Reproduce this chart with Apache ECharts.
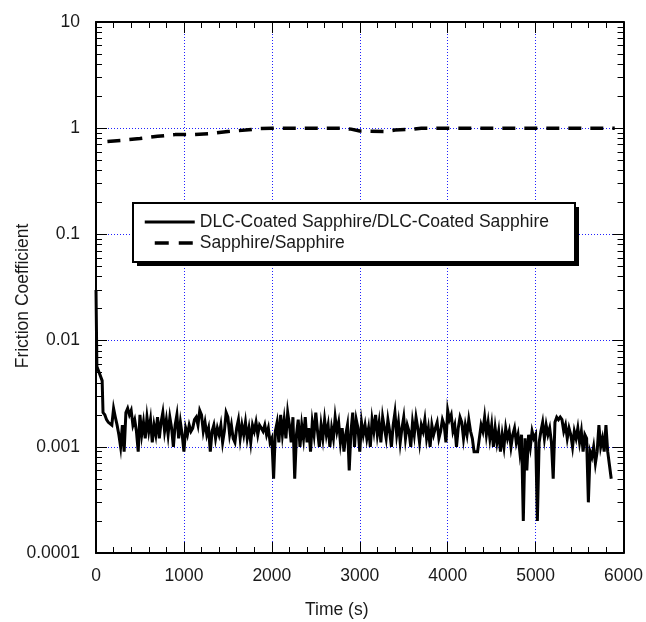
<!DOCTYPE html>
<html>
<head>
<meta charset="utf-8">
<script src="https://cdn.jsdelivr.net/npm/echarts@6/dist/echarts.min.js"></script>
<style>html,body{margin:0;padding:0;background:#fff;}#c{width:646px;height:622px;}</style>
</head>
<body>
<div id="c"></div>
<script>
// ---- data ----
var seriesNames = ['DLC-Coated Sapphire/DLC-Coated Sapphire', 'Sapphire/Sapphire'];
var xTickLabels = ['0', '1000', '2000', '3000', '4000', '5000', '6000'];
var yTickLabels = ['0.0001', '0.001', '0.01', '0.1', '1', '10'];
var xTitle = 'Time (s)';
var yTitle = 'Friction Coefficient';

// DLC run: first few readings (time, value), then readings every 20 s from 100 s
var dlcHeadTime = [0, 10, 70, 80];
var dlcHeadValue = [0.030, 0.0057, 0.0042, 0.0021];
var dlcStart = 100, dlcStep = 20;
var dlcValues = [
  0.0020, 0.0018, 0.0017, 0.0017, 0.0016,
  0.0023, 0.0019, 0.0016, 0.0013, 0.0010,
  0.0016, 0.0009, 0.0021, 0.0023, 0.0020,
  0.0022, 0.0016, 0.0018, 0.0014, 0.0009,
  0.0020, 0.0013, 0.0017, 0.0012, 0.0019,
  0.0014, 0.0018, 0.0011, 0.0016, 0.0013,
  0.0019, 0.0012, 0.0017, 0.0021, 0.0014,
  0.0018, 0.0013, 0.0019, 0.0015, 0.0010,
  0.0016, 0.0020, 0.0012, 0.0017, 0.0013,
  0.0009, 0.0015, 0.0013, 0.0016, 0.0014,
  0.0015, 0.0018, 0.0019, 0.0016, 0.0022,
  0.0020, 0.0014, 0.0017, 0.0013, 0.0015,
  0.0009, 0.0014, 0.0016, 0.0012, 0.0015,
  0.0013, 0.0016, 0.0011, 0.0014, 0.0021,
  0.0019, 0.0013, 0.0016, 0.0012, 0.0011,
  0.0015, 0.0018, 0.0012, 0.0016, 0.0013,
  0.0017, 0.0012, 0.0015, 0.0011, 0.0016,
  0.0014, 0.0017, 0.0013, 0.0016, 0.0015,
  0.0014, 0.0016, 0.0013, 0.0015, 0.0011,
  0.0012, 0.0005, 0.0014, 0.0017, 0.0011,
  0.0020, 0.0013, 0.0018, 0.0012, 0.0021,
  0.0016, 0.0011, 0.0019, 0.0005, 0.0013,
  0.0018, 0.0010, 0.0016, 0.0012, 0.0019,
  0.0011, 0.0015, 0.0009, 0.0017, 0.0013,
  0.0021, 0.0014, 0.0010, 0.0016, 0.0012,
  0.0018, 0.0013, 0.0016, 0.0010, 0.0015,
  0.0012, 0.0019, 0.0014, 0.0017, 0.0011,
  0.0015, 0.0009, 0.0013, 0.0016, 0.0006,
  0.0014, 0.0021, 0.0010, 0.0018, 0.0015,
  0.0009, 0.0017, 0.0013, 0.0016, 0.0012,
  0.0015, 0.0010, 0.0018, 0.0014, 0.0020,
  0.0013, 0.0017, 0.0011, 0.0019, 0.0015,
  0.0012, 0.0018, 0.0014, 0.0010, 0.0016,
  0.0021, 0.0013, 0.0017, 0.0011, 0.0015,
  0.0019, 0.0012, 0.0016, 0.0014, 0.0010,
  0.0017, 0.0013, 0.0019, 0.0015, 0.0011,
  0.0016, 0.0014, 0.0018, 0.0012, 0.0015,
  0.0010, 0.0016, 0.0013, 0.0015, 0.0017,
  0.0012, 0.0014, 0.0018, 0.0016, 0.0011,
  0.0022, 0.0018, 0.0020, 0.0014, 0.0016,
  0.0010, 0.0015, 0.0019, 0.0017, 0.0012,
  0.0016, 0.0013, 0.0018, 0.0014, 0.0012,
  0.0009, 0.0009, 0.0009, 0.0009, 0.0016,
  0.0014, 0.0019, 0.0013, 0.0017, 0.0012,
  0.0016, 0.0010, 0.0015, 0.0011, 0.0014,
  0.0009, 0.0013, 0.0010, 0.0015, 0.0012,
  0.0014, 0.0010, 0.0013, 0.0015, 0.0011,
  0.0013, 0.0009, 0.0013, 0.0002, 0.0012,
  0.0006, 0.0013, 0.0010, 0.0014, 0.0012,
  0.0013, 0.0002, 0.0011, 0.0014, 0.0017,
  0.0012, 0.0016, 0.0013, 0.0015, 0.0011,
  0.0005, 0.0017, 0.0019, 0.0018, 0.0019,
  0.0018, 0.0014, 0.0016, 0.0012, 0.0015,
  0.0013, 0.0010, 0.0014, 0.0012, 0.0015,
  0.0011, 0.0014, 0.0009, 0.0013, 0.0012,
  0.0003, 0.0009, 0.0008, 0.0010, 0.0007,
  0.0009, 0.0016, 0.0010, 0.0012, 0.0009,
  0.0016, 0.0009, 0.0009, 0.0005
];

// Sapphire run
var sapTime  = [130, 300, 500, 700, 900, 1100, 1300, 1500, 1700, 1850, 2000, 2500, 2800, 2900, 3000, 3300, 3400, 3600, 3700, 4500, 5000, 5500, 5900];
var sapValue = [0.75, 0.77, 0.80, 0.84, 0.87, 0.87, 0.89, 0.93, 0.96, 0.99, 1.0, 1.0, 1.0, 0.98, 0.94, 0.93, 0.96, 0.98, 1.0, 1.0, 1.0, 1.0, 1.0];

// ---- build ----
var dlcData = [];
for (var i = 0; i < dlcHeadTime.length; i++) dlcData.push([dlcHeadTime[i], dlcHeadValue[i]]);
for (var j = 0; j < dlcValues.length; j++) dlcData.push([dlcStart + j * dlcStep, dlcValues[j]]);
var sapData = sapTime.map(function (t, k) { return [t, sapValue[k]]; });

var expMin = -4, expMax = 1;
var minorExp = [], majorExp = [];
for (var d = expMin; d <= expMax; d++) {
  majorExp.push(d);
  if (d < expMax) for (var m = 2; m <= 9; m++) minorExp.push(d + Math.log10(m));
}

var FONT = 'Liberation Sans, Arial, sans-serif';
var FS = 17.5;
var TXT = '#1a1a1a';
var gridLine = { show: true, lineStyle: { color: '#2020ff', type: [1, 2], width: 1 } };

function tickOnlyY(pos, values, len, showLine) {
  return {
    type: 'value', position: pos, min: expMin, max: expMax, interval: 1,
    axisLine: { show: !!showLine, onZero: false, lineStyle: { color: '#000', width: 2 } },
    axisTick: { show: true, inside: true, length: len, customValues: values, lineStyle: { color: '#000', width: 1 } },
    axisLabel: { show: false }, splitLine: { show: false }
  };
}

var LG = { x: 133, y: 203, w: 442, h: 59 };

var chart = echarts.init(document.getElementById('c'), null, { renderer: 'canvas' });
chart.setOption({
  animation: false,
  backgroundColor: '#fff',
  textStyle: { fontFamily: FONT },
  grid: { left: 96, right: 19, top: 22, bottom: 69, containLabel: false },
  xAxis: [
    {
      type: 'value', position: 'bottom', min: 0, max: 6000, interval: 1000,
      axisLine: { onZero: false, lineStyle: { color: '#000', width: 2 } },
      axisTick: { inside: true, length: 11, lineStyle: { color: '#000', width: 1 } },
      minorTick: { show: true, splitNumber: 5, length: 6, lineStyle: { color: '#000', width: 1 } },
      splitLine: gridLine,
      axisLabel: { fontSize: FS, color: TXT, margin: 14, fontFamily: FONT,
        formatter: function (v) { return xTickLabels[Math.round(v / 1000)]; } }
    },
    {
      type: 'value', position: 'top', min: 0, max: 6000, interval: 1000,
      axisLine: { onZero: false, lineStyle: { color: '#000', width: 2 } },
      axisTick: { inside: true, length: 11, lineStyle: { color: '#000', width: 1 } },
      minorTick: { show: true, splitNumber: 5, length: 6, lineStyle: { color: '#000', width: 1 } },
      splitLine: { show: false }, axisLabel: { show: false }
    }
  ],
  yAxis: [
    {
      type: 'log', logBase: 10, min: 0.0001, max: 10, position: 'left',
      axisLine: { onZero: false, lineStyle: { color: '#000', width: 2 } },
      axisTick: { inside: true, length: 11, lineStyle: { color: '#000', width: 1 } },
      splitLine: gridLine,
      axisLabel: { fontSize: FS, color: TXT, margin: 16, fontFamily: FONT,
        formatter: function (v) { return yTickLabels[Math.round(Math.log10(v)) - expMin]; } }
    },
    tickOnlyY('left', minorExp, 6, false),
    tickOnlyY('right', majorExp, 11, true),
    tickOnlyY('right', minorExp, 6, false)
  ],
  legend: {
    orient: 'vertical', left: LG.x, top: LG.y,
    itemWidth: 50, itemHeight: 18, itemGap: 3, itemTextGap: 8,
    padding: [10, 22, 10, 10],
    itemStyle: { opacity: 0 },
    textStyle: { fontSize: FS, color: TXT, fontFamily: FONT },
    data: [
      { name: seriesNames[0], lineStyle: { width: 3 } },
      { name: seriesNames[1], lineStyle: { width: 3.5, type: [14, 10], dashOffset: 14 } }
    ]
  },
  graphic: [
    { type: 'rect', z: 1, silent: true, shape: { x: LG.x + 4, y: LG.y + 4, width: LG.w, height: LG.h }, style: { fill: '#000' } },
    { type: 'rect', z: 2, silent: true, shape: { x: LG.x, y: LG.y, width: LG.w, height: LG.h }, style: { fill: '#fff', stroke: '#000', lineWidth: 2 } },
    { type: 'text', left: 339 - 34, top: 601, style: { text: xTitle, font: FS + 'px ' + FONT, fill: TXT } },
    { type: 'text', x: 23, y: 296, rotation: Math.PI / 2,
      style: { text: yTitle, font: FS + 'px ' + FONT, fill: TXT, align: 'center', verticalAlign: 'middle' } }
  ],
  series: [
    { name: seriesNames[0], type: 'line', xAxisIndex: 0, yAxisIndex: 0, data: dlcData,
      symbol: 'none', lineStyle: { color: '#000', width: 3, join: 'miter' }, itemStyle: { color: '#000' }, z: 5 },
    { name: seriesNames[1], type: 'line', xAxisIndex: 0, yAxisIndex: 0, data: sapData,
      symbol: 'none', lineStyle: { color: '#000', width: 3.5, type: [13, 9] }, itemStyle: { color: '#000' }, z: 5 }
  ]
});
</script>
</body>
</html>
